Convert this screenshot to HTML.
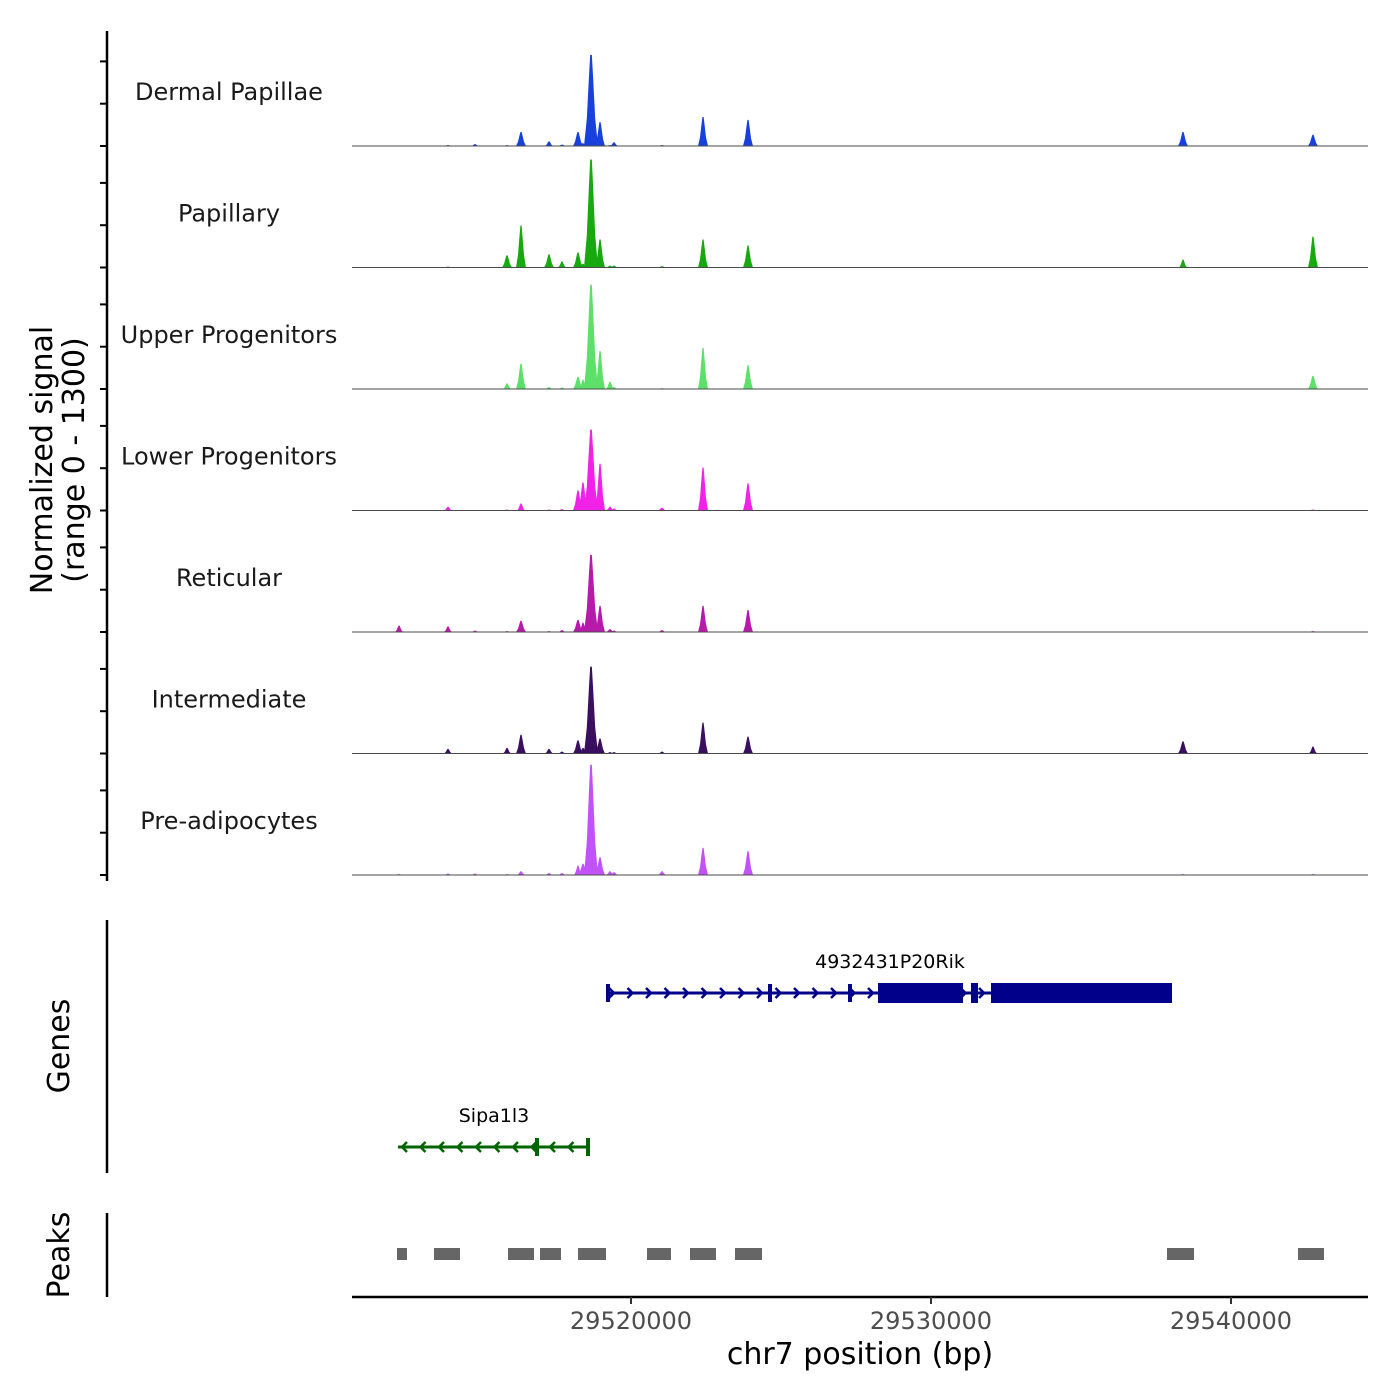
<!DOCTYPE html>
<html><head><meta charset="utf-8"><style>
body{margin:0;background:#fff;}
svg{display:block;font-family:"DejaVu Sans","Liberation Sans",sans-serif;}
</style></head><body>
<svg id="chart" width="1400" height="1400" viewBox="0 0 1400 1400">
<rect width="1400" height="1400" fill="#fff"/>
<g id="tracks"></g>
<g id="axes"></g>
<g id="genes"></g>
<g id="peaks"></g>
</svg>
<script>
const NS='http://www.w3.org/2000/svg';
// ---- data ----
const trackNames=['Dermal Papillae','Papillary','Upper Progenitors','Lower Progenitors','Reticular','Intermediate','Pre-adipocytes'];
const trackColors=['#1740dc','#18a80f','#5ce06a','#f022e8','#b719aa','#3b0f60','#c152f7'];
const peakPos=[29512267,29513900,29514800,29515867,29516333,29517267,29517700,29518233,29518400,29518667,29518967,29519300,29519433,29521033,29522400,29523900,29538400,29542733];
const dpVals  =[0,10,20,10,150,50,15,150,30,975,255,10,40,10,310,280,150,120];
const papVals =[0,10,5,130,450,140,65,160,40,1155,300,20,20,15,300,235,85,330];
const upVals  =[0,5,5,60,270,20,15,130,100,1115,405,80,20,10,440,255,5,140];
const lowVals =[5,40,5,10,75,10,15,215,300,865,500,40,20,30,460,290,5,10];
const retVals =[70,60,15,10,120,10,20,130,100,825,280,30,15,20,280,235,5,10];
const intVals =[5,50,5,60,200,50,20,140,60,930,160,15,15,20,330,180,130,75];
const preVals =[10,15,15,10,40,20,20,100,120,1180,190,40,30,40,290,255,10,10];
const series=[dpVals,papVals,upVals,lowVals,retVals,intVals,preVals];
const xTicks=[29520000,29530000,29540000];
const peakStarts=[29512200,29513433,29515900,29516967,29518233,29520533,29521967,29523467,29537867,29542233];
const peakEnds  =[29512533,29514300,29516767,29517667,29519167,29521333,29522833,29524367,29538767,29543100];
const gene1Exons=[[29528233,29531067],[29531333,29531567],[29532000,29538033]];
const gene1Range=[29519167,29538033];
const gene1Marks=[29519233,29524633,29527300];
const gene2Range=[29512233,29518600];
const gene2Marks=[29516867,29518567];
// ---- scales ----
const X0=352,X1=1368,BP0=29510700,BP1=29544567;
const xs=bp=>X0+(bp-BP0)/(BP1-BP0)*(X1-X0);
const trackH=121.5, baseline0=146, yMax=1300;
const ys=(i,v)=>baseline0+i*trackH - v/yMax*trackH;
function el(tag,attrs,parent,text){const e=document.createElementNS(NS,tag);for(const k in attrs)e.setAttribute(k,attrs[k]);if(text!==undefined)e.textContent=text;parent.appendChild(e);return e;}
const T=document.getElementById('tracks');
trackNames.forEach((name,i)=>{
  const g=el('g',{},T);
  
  
  const b=ys(i,0);
  let d='M'+X0+','+b;
  const vals=series[i];
  peakPos.forEach((p,j)=>{
    const v=vals[j]; if(v<=0)return;
    const cx=xs(p), hw=v>600?7:(v>100?5:4);
    const top=ys(i,v), h=b-top;
    d+=' M'+(cx-hw)+','+b+' L'+(cx-hw*0.6)+','+(b-h*0.3)+' L'+(cx-hw*0.3)+','+(b-h*0.75)+' L'+(cx-hw*0.12)+','+top+' L'+(cx+hw*0.12)+','+top+' L'+(cx+hw*0.3)+','+(b-h*0.75)+' L'+(cx+hw*0.6)+','+(b-h*0.3)+' L'+(cx+hw)+','+b+' Z';
  });
  const path=el('path',{d:d,fill:trackColors[i]},g);
  
  
  const bl=el('line',{x1:X0,x2:X1,y1:b,y2:b,stroke:'#4a4a4a',"stroke-width":1},g);
  
  
  const lab=el('text',{x:229,y:b-46,"text-anchor":"middle","font-size":24,fill:'#1a1a1a'},g,name);
  
  
});
const A=document.getElementById('axes');
el('line',{x1:107,x2:107,y1:31,y2:881,stroke:'#000',"stroke-width":2.5},A);
for(let i=0;i<7;i++){for(let k=0;k<3;k++){const y=baseline0+i*trackH-k*42.3;const t=el('line',{x1:100,x2:107,y1:y,y2:y,stroke:'#000',"stroke-width":2},A);

}}
const yt=el('text',{transform:'translate(52,460) rotate(-90)',"text-anchor":"middle","font-size":30,fill:'#000'},A);


el('tspan',{x:0,dy:0},yt,'Normalized signal');el('tspan',{x:0,dy:32},yt,'(range 0 - 1300)');
el('line',{x1:107,x2:107,y1:920,y2:1173,stroke:'#000',"stroke-width":2.5},A);
const gt=el('text',{transform:'translate(69,1046) rotate(-90)',"text-anchor":"middle","font-size":30},A,'Genes');


el('line',{x1:107,x2:107,y1:1213,y2:1297,stroke:'#000',"stroke-width":2.5},A);
const pt=el('text',{transform:'translate(69,1255) rotate(-90)',"text-anchor":"middle","font-size":30},A,'Peaks');


el('line',{x1:X0,x2:X1,y1:1297,y2:1297,stroke:'#000',"stroke-width":2.5},A);
xTicks.forEach(t=>{const x=xs(t);el('line',{x1:x,x2:x,y1:1297,y2:1304,stroke:'#333',"stroke-width":2},A);
const l=el('text',{x:x,y:1329,"text-anchor":"middle","font-size":24,fill:'#4d4d4d'},A,String(t));

});
const xt=el('text',{x:860,y:1364,"text-anchor":"middle","font-size":30},A,'chr7 position (bp)');


// genes
const G=document.getElementById('genes');
function gene(range,exons,marks,y,color,dir,label,lx){
  const g=el('g',{},G);
  
  
  el('line',{x1:xs(range[0]),x2:xs(range[1]),y1:y,y2:y,stroke:color,"stroke-width":3},g);
  for(let x=xs(range[0])+6;x<xs(range[1])-4;x+=18.5){
    el('path',{d:dir>0?`M${x-3},${y-5} L${x+2},${y} L${x-3},${y+5}`:`M${x+3},${y-5} L${x-2},${y} L${x+3},${y+5}`,stroke:color,"stroke-width":2.5,fill:'none'},g);
  }
  marks.forEach(m=>el('rect',{x:xs(m)-2,y:y-9,width:4,height:18,fill:color},g));
  exons.forEach(e=>el('rect',{x:xs(e[0]),y:y-10,width:xs(e[1])-xs(e[0]),height:20,fill:color},g));
  el('text',{x:lx,y:y-25,"text-anchor":"middle","font-size":19,fill:'#000'},g,label);
}
gene(gene1Range,gene1Exons,gene1Marks,993,'#00008b',1,'4932431P20Rik',890);
gene(gene2Range,[],gene2Marks,1147,'#006400',-1,'Sipa1l3',494);
// peaks
const P=document.getElementById('peaks');
peakStarts.forEach((s,i)=>{const r=el('rect',{x:xs(s),y:1248,width:xs(peakEnds[i])-xs(s),height:12,fill:'#666'},P);

});
</script>
</body></html>
